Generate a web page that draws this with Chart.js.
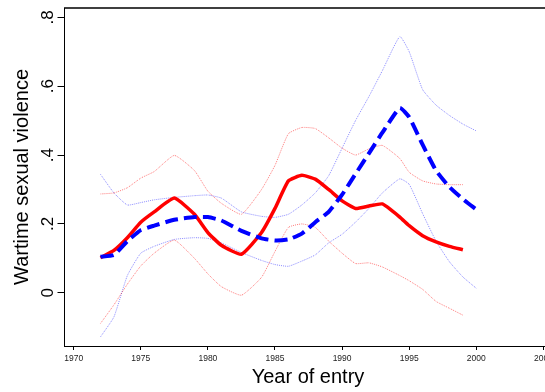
<!DOCTYPE html>
<html>
<head>
<meta charset="utf-8">
<script src="https://cdn.jsdelivr.net/npm/chart.js@4.4.1/dist/chart.umd.min.js"></script>
<style>
  html, body { margin: 0; padding: 0; background: #fff; overflow: hidden; }
  #wrap { position: relative; width: 560px; height: 392px; }
</style>
</head>
<body>
<div id="wrap"><canvas id="chart"></canvas></div>
<script>
// values
const years = [1972, 1973, 1974, 1975, 1976, 1977.5, 1979, 1980, 1981, 1982.5, 1984, 1985, 1986,
  1987, 1988, 1989, 1990, 1991, 1992, 1993, 1994.3, 1995, 1996, 1997, 1998, 1999, 2000];

const redMean = [0.102, 0.123, 0.160, 0.205, 0.235, 0.275, 0.228, 0.175, 0.138, 0.112, 0.175, 0.245, 0.325,
  0.341, 0.330, 0.300, 0.267, 0.245, 0.252, 0.258, 0.220, 0.195, 0.166, 0.148, 0.135, 0.125, null];
const redUpper = [0.287, 0.290, 0.305, 0.333, 0.352, 0.399, 0.355, 0.295, 0.260, 0.228, 0.300, 0.370, 0.462,
  0.480, 0.477, 0.450, 0.420, 0.400, 0.418, 0.428, 0.390, 0.350, 0.325, 0.316, 0.314, 0.314, null];
const redLower = [-0.089, -0.035, 0.025, 0.078, 0.115, 0.153, 0.100, 0.055, 0.018, -0.007, 0.045, 0.120, 0.190,
  0.200, 0.190, 0.150, 0.115, 0.085, 0.087, 0.075, 0.050, 0.035, 0.010, -0.025, -0.045, -0.065, null];

const blueMean = [0.105, 0.110, 0.150, 0.182, 0.195, 0.212, 0.220, 0.220, 0.210, 0.180, 0.158, 0.152, 0.155,
  0.172, 0.205, 0.235, 0.285, 0.345, 0.405, 0.465, 0.537, 0.510, 0.430, 0.355, 0.307, 0.272, 0.242];
const blueUpper = [0.344, 0.290, 0.255, 0.262, 0.270, 0.277, 0.282, 0.284, 0.275, 0.235, 0.222, 0.219, 0.228,
  0.255, 0.290, 0.340, 0.420, 0.500, 0.570, 0.645, 0.744, 0.700, 0.590, 0.545, 0.515, 0.490, 0.470];
const blueLower = [-0.128, -0.070, 0.050, 0.115, 0.135, 0.155, 0.160, 0.158, 0.145, 0.117, 0.094, 0.082, 0.077,
  0.092, 0.110, 0.145, 0.170, 0.205, 0.245, 0.290, 0.331, 0.315, 0.230, 0.150, 0.090, 0.046, 0.013];

const xTicks = [1970, 1975, 1980, 1985, 1990, 1995, 2000, 2005];
const yTicks = [0, 0.2, 0.4, 0.6, 0.8];
const yTickLabels = ["0", ".2", ".4", ".6", ".8"];

const FONT = '"Liberation Sans", Arial, Helvetica, sans-serif';
Chart.defaults.font.family = FONT;

function points(values) {
  return years
    .map((x, i) => ({ x, y: values[i] }))
    .filter((p) => p.y !== null && p.y !== undefined);
}

function line(values, color, width, dash) {
  return {
    data: points(values),
    borderColor: color,
    borderWidth: width,
    borderDash: dash,
    borderCapStyle: "butt",
    pointRadius: 0,
    tension: 0.15,
    fill: false,
  };
}

// frame of the plot region and the rotated y tick labels (Stata look)
const stataFrame = {
  id: "stataFrame",
  afterDraw(chart) {
    const { ctx, chartArea: area, scales } = chart;
    ctx.save();
    ctx.strokeStyle = "#000";
    ctx.lineWidth = 1.5;
    ctx.beginPath();
    ctx.moveTo(area.left, area.top);
    ctx.lineTo(area.right, area.top);
    ctx.lineTo(area.right, area.bottom);
    ctx.stroke();

    ctx.font = `17px ${FONT}`;
    ctx.fillStyle = "#000";
    ctx.textAlign = "center";
    ctx.textBaseline = "alphabetic";
    yTicks.forEach((value, i) => {
      ctx.save();
      ctx.translate(area.left - 11, scales.y.getPixelForValue(value));
      ctx.rotate(-Math.PI / 2);
      ctx.fillText(yTickLabels[i], 0, 0);
      ctx.restore();
    });
    ctx.restore();
  },
};

new Chart(document.getElementById("chart").getContext("2d"), {
  type: "line",
  data: {
    datasets: [
      line(blueMean, "#0000ff", 4, [13, 6]),
      line(redMean, "#ff0000", 3.5, []),
      line(redUpper, "rgba(255,0,0,0.5)", 1, [1, 1]),
      line(redLower, "rgba(255,0,0,0.5)", 1, [1, 1]),
      line(blueUpper, "rgba(0,0,255,0.45)", 1, [1, 1]),
      line(blueLower, "rgba(0,0,255,0.45)", 1, [1, 1]),
    ],
  },
  options: {
    responsive: true,
    maintainAspectRatio: false,
    animation: false,
    layout: { padding: { top: 8, right: 8, left: 0, bottom: 0 } },
    plugins: {
      legend: { display: false },
      tooltip: { enabled: false },
    },
    scales: {
      x: {
        type: "linear",
        min: 1969.28,
        max: 2005.64,
        afterBuildTicks: (scale) => { scale.ticks = xTicks.map((value) => ({ value })); },
        afterFit: (scale) => { scale.height = 46; },
        ticks: {
          autoSkip: false,
          maxRotation: 0,
          padding: 4,
          color: "#222",
          font: { size: 8.5 },
          callback: (value) => String(value),
        },
        grid: { drawOnChartArea: false, drawTicks: true, tickLength: 4, color: "#000" },
        border: { display: true, color: "#000", width: 1 },
        title: {
          display: true,
          text: "Year of entry",
          color: "#000",
          font: { size: 20 },
          padding: { top: 0, bottom: 3 },
        },
      },
      y: {
        min: -0.1545,
        max: 0.827,
        afterBuildTicks: (scale) => { scale.ticks = yTicks.map((value) => ({ value })); },
        afterFit: (scale) => { scale.width = 64; },
        ticks: { display: false },
        grid: { drawOnChartArea: false, drawTicks: true, tickLength: 6.5, color: "#000" },
        border: { display: true, color: "#000", width: 1 },
        title: {
          display: true,
          text: "Wartime sexual violence",
          color: "#000",
          font: { size: 20 },
          padding: { top: 10, bottom: 0 },
        },
      },
    },
  },
  plugins: [stataFrame],
});
</script>
</body>
</html>
